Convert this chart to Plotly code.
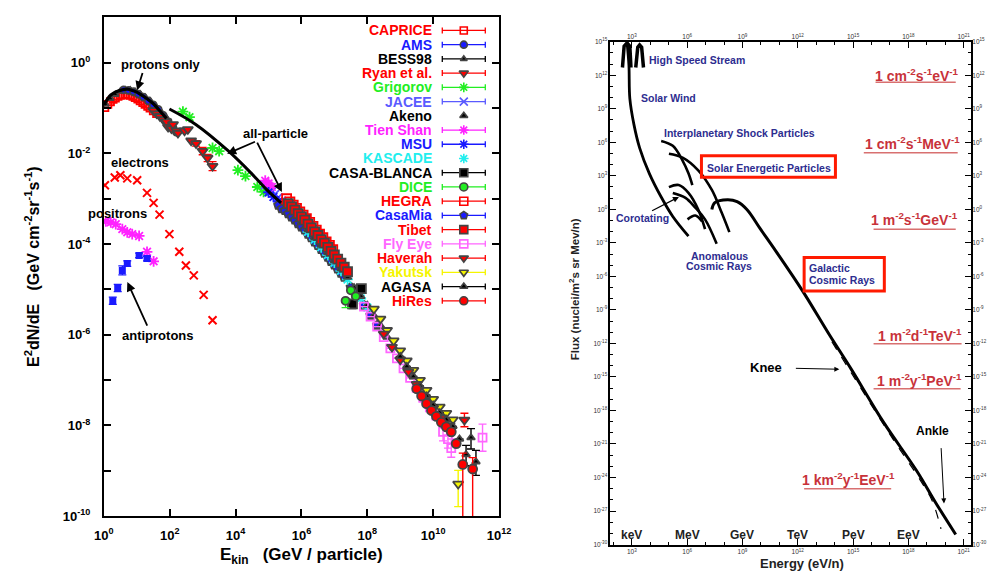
import numpy as np
import plotly.graph_objects as go

W, H = 1000, 578
FONT = "Liberation Sans"

# ====================== LEFT PANEL (values are log10) ======================
# x: log10(E_kin / GeV) ; y: log10(E^2 dN/dE / GeV cm^-2 sr^-1 s^-1)
proton_fit_lx = [0.0, 0.21, 0.45, 0.71, 0.9, 1.1, 1.3, 1.51, 1.7, 1.9]
proton_fit_ly = [-0.93, -0.71, -0.62, -0.58, -0.62, -0.69, -0.79, -0.91, -1.06, -1.23]
allpart_lx = [1.99, 2.79, 3.77, 4.48, 4.96, 5.38]
allpart_ly = [-1.02, -1.36, -1.94, -2.44, -2.81, -3.09]

electrons_lx = [0.03, 0.33, 0.5, 0.71, 1.01, 1.31, 1.51, 1.69, 1.99, 2.29, 2.49, 2.73, 3.03, 3.3]
electrons_ly = [-2.7, -2.53, -2.48, -2.55, -2.59, -2.87, -3.09, -3.35, -3.78, -4.17, -4.47, -4.69, -5.12, -5.68]
positrons_lx = [0.06, 0.21, 0.36, 0.56, 0.71, 0.86, 1.07, 1.31, 1.51]
positrons_ly = [-3.5, -3.52, -3.56, -3.67, -3.74, -3.78, -3.82, -4.17, -4.38]
antiprotons_lx = [0.27, 0.42, 0.56, 0.71, 1.07, 1.31]
antiprotons_ly = [-5.25, -4.97, -4.58, -4.43, -4.25, -4.32]

caprice_lx = [0.03, 0.12, 0.2, 0.28, 0.35, 0.43, 0.5, 0.58, 0.65, 0.73, 0.8, 0.88, 0.95, 1.03, 1.1, 1.18, 1.25, 1.33, 1.4, 1.5, 1.6]
caprice_ly = [-0.99, -0.92, -0.86, -0.81, -0.78, -0.74, -0.72, -0.71, -0.7, -0.71, -0.72, -0.74, -0.77, -0.8, -0.84, -0.88, -0.92, -0.96, -1.0, -1.06, -1.12]
ams_lx = [0.6, 0.75, 0.9, 1.05, 1.2, 1.35, 1.5, 1.65, 1.8, 1.95, 2.1, 2.2]
ams_ly = [-0.6, -0.61, -0.64, -0.69, -0.76, -0.84, -0.93, -1.03, -1.16, -1.3, -1.45, -1.53]
bess_lx = [0.05, 0.2, 0.35, 0.5, 0.65, 0.8, 0.95, 1.1, 1.25, 1.4, 1.55, 1.7, 1.85]
bess_ly = [-0.92, -0.79, -0.7, -0.63, -0.6, -0.6, -0.64, -0.69, -0.76, -0.84, -0.94, -1.05, -1.17]
ryan_lx = [1.5, 1.6, 1.7, 1.8, 1.9, 1.95, 2.05, 2.1, 2.2, 2.25, 2.45, 2.55, 2.65, 2.8, 3.0, 3.15, 3.3]
ryan_ly = [-1.05, -1.12, -1.18, -1.25, -1.3, -1.42, -1.45, -1.36, -1.5, -1.55, -1.5, -1.47, -1.72, -1.78, -1.95, -2.1, -2.28]
grigorov_lx = [2.4, 2.6, 3.3, 3.5, 4.07, 4.3, 4.66, 4.85]
grigorov_ly = [-1.08, -1.2, -1.88, -1.95, -2.37, -2.5, -2.74, -2.85]
jacee_lx = [4.9, 5.0, 5.1, 5.2, 5.3, 5.4, 5.5, 5.6, 5.7]
jacee_ly = [-2.7, -2.77, -2.84, -2.9, -2.97, -3.04, -3.12, -3.2, -3.28]
akeno_lx = [6.0, 6.2, 6.4, 6.6, 6.8, 7.0, 7.2, 7.4, 7.6, 7.8, 8.0, 8.2, 8.4, 8.6, 8.8, 9.0, 9.2, 9.4, 9.6, 9.8, 10.0]
akeno_ly = [-3.52, -3.68, -3.85, -4.02, -4.19, -4.36, -4.54, -4.73, -4.96, -5.15, -5.35, -5.58, -5.8, -6.05, -6.28, -6.5, -6.72, -6.93, -7.15, -7.37, -7.57]
tienshan_lx = [4.9, 5.0, 5.1, 5.5, 5.8, 6.2, 6.5, 6.8, 7.1, 7.3]
tienshan_ly = [-2.6, -2.66, -2.74, -3.12, -3.35, -3.7, -3.96, -4.24, -4.5, -4.68]
msu_lx = [5.0, 5.15, 5.3, 5.45, 5.6, 5.75, 5.9, 6.05, 6.2]
msu_ly = [-2.86, -2.96, -3.06, -3.17, -3.28, -3.38, -3.5, -3.62, -3.74]
kascade_lx = [6.2, 6.4, 6.6, 6.8, 7.0, 7.2, 7.4, 7.6, 7.8, 8.0]
kascade_ly = [-3.73, -3.9, -4.07, -4.24, -4.41, -4.59, -4.78, -5.01, -5.2, -5.4]
casablanca_lx = [7.55, 7.82]
casablanca_ly = [-5.32, -4.98]
dice_lx = [7.34, 7.5, 7.65]
dice_ly = [-5.25, -5.02, -5.15]
hegra_lx = [5.55, 5.65, 5.75, 5.85, 5.95, 6.05, 6.15, 6.25, 6.35, 6.45, 6.55, 6.65, 6.75, 6.85, 6.95]
hegra_ly = [-3.0, -3.07, -3.14, -3.21, -3.29, -3.36, -3.44, -3.52, -3.61, -3.69, -3.78, -3.86, -3.95, -4.03, -4.12]
casamia_lx = [5.3, 5.4, 5.5, 5.6, 5.7, 5.8, 5.9, 6.0, 6.1, 6.2, 6.3, 6.4, 6.5, 6.6, 6.7, 6.8, 6.9, 7.0, 7.1, 7.2, 7.3, 7.5, 7.7, 7.9, 8.1, 8.3]
casamia_ly = [-3.14, -3.22, -3.26, -3.33, -3.4, -3.47, -3.55, -3.62, -3.69, -3.78, -3.86, -3.95, -4.03, -4.12, -4.2, -4.29, -4.38, -4.46, -4.55, -4.64, -4.73, -4.95, -5.16, -5.35, -5.57, -5.79]
tibet_lx = [5.6, 5.7, 5.8, 5.9, 6.0, 6.1, 6.2, 6.3, 6.4, 6.5, 6.6, 6.7, 6.8, 6.9, 7.0, 7.1, 7.2, 7.3, 7.4]
tibet_ly = [-3.11, -3.18, -3.25, -3.33, -3.4, -3.47, -3.56, -3.64, -3.73, -3.81, -3.9, -3.98, -4.07, -4.16, -4.24, -4.33, -4.42, -4.51, -4.61]
flyeye_lx = [7.9, 8.1, 8.3, 8.5, 8.7, 8.9, 9.1, 9.3, 9.5, 9.7, 9.9, 10.1, 10.3, 10.45, 10.55, 11.5]
flyeye_ly = [-5.38, -5.6, -5.82, -6.05, -6.3, -6.52, -6.74, -6.95, -7.17, -7.39, -7.6, -7.78, -8.14, -8.3, -8.5, -8.27]
haverah_lx = [8.5, 8.75, 9.0, 9.25, 9.5, 9.75, 10.0, 10.25, 10.5, 10.95]
haverah_ly = [-5.98, -6.27, -6.55, -6.82, -7.09, -7.37, -7.62, -7.83, -8.0, -7.88]
yakutsk_lx = [8.2, 8.4, 8.6, 8.8, 9.0, 9.2, 9.4, 9.6, 9.8, 10.0, 10.2, 10.4, 10.6, 10.76]
yakutsk_ly = [-5.43, -5.65, -5.9, -6.13, -6.35, -6.57, -6.78, -7.0, -7.22, -7.42, -7.59, -7.73, -7.87, -9.29]
agasa_lx = [9.0, 9.2, 9.4, 9.6, 9.8, 10.0, 10.2, 10.4, 10.6, 10.8, 11.0, 11.15, 11.3]
agasa_ly = [-6.48, -6.7, -6.92, -7.13, -7.35, -7.55, -7.72, -7.87, -8.02, -8.3, -8.64, -8.27, -8.8]
hires_lx = [9.5, 9.65, 9.8, 9.95, 10.1, 10.25, 10.4, 10.55, 10.7, 10.9, 11.2]
hires_ly = [-7.19, -7.35, -7.52, -7.67, -7.8, -7.93, -8.03, -8.14, -8.4, -8.86, -8.96]

# error bars (dex, up / down)
antiprotons_eu = [0.08, 0.08, 0.1, 0.06, 0.05, 0.05]
antiprotons_ed = [0.08, 0.08, 0.1, 0.06, 0.05, 0.05]
ryan_eu = [0] * 13 + [0.06, 0.08, 0.08, 0.1]
ryan_ed = [0] * 13 + [0.06, 0.08, 0.08, 0.1]
casablanca_eu = [0.08, 0.06]
casablanca_ed = [0.1, 0.06]
dice_eu = [0.0, 0.0, 0.0]
dice_ed = [0.15, 0.0, 0.0]
flyeye_eu = [0] * 12 + [0.2, 0.2, 0.2, 0.3]
flyeye_ed = [0] * 12 + [0.2, 0.2, 0.2, 0.3]
haverah_eu = [0] * 9 + [0.15]
haverah_ed = [0] * 9 + [0.15]
yakutsk_eu = [0] * 13 + [0.3]
yakutsk_ed = [0] * 13 + [0.5]
agasa_eu = [0] * 10 + [0.2, 0.2, 0.25]
agasa_ed = [0] * 10 + [0.25, 0.25, 0.3]
hires_eu = [0] * 9 + [0.25, 0.25]
hires_ed = [0] * 9 + [1.3, 1.3]

legend_names = ["CAPRICE", "AMS", "BESS98", "Ryan et al.", "Grigorov", "JACEE", "Akeno",
                "Tien Shan", "MSU", "KASCADE", "CASA-BLANCA", "DICE", "HEGRA", "CasaMia",
                "Tibet", "Fly Eye", "Haverah", "Yakutsk", "AGASA", "HiRes"]

# ====================== RIGHT PANEL (values are log10) ======================
# x: log10(E / eV per nucleon) ; y: log10(flux / nuclei m^-2 s^-1 sr^-1 (MeV/n)^-1)
solarwind_lx = [2.74, 2.84, 2.89, 3.11, 3.42, 3.95, 4.59, 5.22, 6.07]
solarwind_ly = [14.9, 12.9, 9.9, 7.6, 5.5, 3.2, 1.1, -0.64, -2.4]
hss1_lx = [2.49, 2.58, 2.74, 2.89, 2.95]
hss1_ly = [12.69, 14.6, 14.89, 14.6, 12.69]
hss2_lx = [3.21, 3.32, 3.42, 3.53, 3.63]
hss2_ly = [12.69, 14.5, 14.7, 14.5, 12.69]
ipshock_lx = [4.59, 5.22, 5.75, 6.07, 6.28]
ipshock_ly = [6.12, 5.68, 4.36, 3.22, 2.17]
sep_lx = [5.01, 5.75, 6.6, 7.34, 7.87, 8.29]
sep_ly = [4.98, 4.63, 3.49, 1.73, -0.29, -2.04]
corot1_lx = [5.01, 5.54, 6.07, 6.6, 6.97]
corot1_ly = [1.99, 2.17, 1.47, -0.02, -1.78]
corot2_lx = [5.22, 5.91, 6.44, 6.97, 7.6]
corot2_ly = [1.47, 1.03, 0.15, -0.9, -3.08]
acr_lx = [6.02, 6.44, 6.81]
acr_ly = [-0.9, -0.55, -1.08]
galactic_lx = [7.34, 7.5, 8.19, 8.71, 9.24, 9.98, 10.83, 12.26, 13.69, 14.9, 16.65, 18.45, 19.5, 20.57]
galactic_ly = [-0.02, 0.59, 0.85, 0.68, -0.02, -1.78, -3.79, -7.3, -11.16, -14.3, -19.05, -23.4, -26.3, -29.1]
galactic_alt_lx = [13.85, 15.44, 17.02, 18.67, 19.3, 19.77]
galactic_alt_ly = [-11.85, -16.05, -20.2, -24.3, -26.1, -28.6]
energy_unit_lx = [3, 6, 9, 12, 15, 18]
energy_unit_names = ["keV", "MeV", "GeV", "TeV", "PeV", "EeV"]


def P(a):
    return np.power(10.0, np.asarray(a, dtype=float))


def errs(ly, eu, ed):
    y = P(ly)
    return dict(type="data", symmetric=False,
                array=list(y * (P(eu) - 1.0)), arrayminus=list(y * (1.0 - P(-np.asarray(ed, dtype=float)))))


fig = go.Figure()

RED, BLUE, BLK, GRN, MAG, CYN, YEL = "#ff0000", "#1a1aff", "#000000", "#22ee22", "#ff22ff", "#22eeee", "#f5f500"
LBLUE, PINK = "#5a5aff", "#ff66ff"

# (name, lx, ly, color, symbol, size, err(up,down) or None, has_errbar_in_legend)
series = [
    ("CAPRICE", caprice_lx, caprice_ly, RED, "square-open", 7, None, True),
    ("BESS98", bess_lx, bess_ly, BLK, "triangle-up", 6, None, True),
    ("AMS", ams_lx, ams_ly, BLUE, "circle", 7, None, True),
    ("Ryan et al.", ryan_lx, ryan_ly, RED, "triangle-down", 9, (ryan_eu, ryan_ed), True),
    ("Grigorov", grigorov_lx, grigorov_ly, GRN, "asterisk-open", 9, None, True),
    ("JACEE", jacee_lx, jacee_ly, LBLUE, "x-thin-open", 8, None, True),
    ("Tien Shan", tienshan_lx, tienshan_ly, MAG, "asterisk-open", 9, None, True),
    ("MSU", msu_lx, msu_ly, BLUE, "asterisk-open", 9, None, True),
    ("CasaMia", casamia_lx, casamia_ly, BLUE, "pentagon", 9, None, True),
    ("KASCADE", kascade_lx, kascade_ly, CYN, "asterisk-open", 9, None, False),
    ("Akeno", akeno_lx, akeno_ly, BLK, "triangle-up", 7, None, False),
    ("HEGRA", hegra_lx, hegra_ly, RED, "square-open", 9, None, True),
    ("Tibet", tibet_lx, tibet_ly, RED, "square", 9, None, True),
    ("Fly Eye", flyeye_lx, flyeye_ly, PINK, "square-open", 8, (flyeye_eu, flyeye_ed), True),
    ("Yakutsk", yakutsk_lx, yakutsk_ly, YEL, "triangle-down", 9, (yakutsk_eu, yakutsk_ed), True),
    ("Haverah", haverah_lx, haverah_ly, RED, "triangle-down", 9, (haverah_eu, haverah_ed), True),
    ("AGASA", agasa_lx, agasa_ly, BLK, "triangle-up", 7, (agasa_eu, agasa_ed), True),
    ("HiRes", hires_lx, hires_ly, RED, "circle", 9, (hires_eu, hires_ed), True),
    ("CASA-BLANCA", casablanca_lx, casablanca_ly, BLK, "square", 9, (casablanca_eu, casablanca_ed), True),
    ("DICE", dice_lx, dice_ly, GRN, "circle", 8, (dice_eu, dice_ed), True),
]
legend_style = {s[0]: s for s in series}

# secondary species
fig.add_trace(go.Scatter(x=P(electrons_lx), y=P(electrons_ly), mode="markers", xaxis="x", yaxis="y",
                         marker=dict(symbol="x-thin-open", size=8, color=RED, line=dict(width=2)),
                         showlegend=False))
fig.add_trace(go.Scatter(x=P(positrons_lx), y=P(positrons_ly), mode="markers", xaxis="x", yaxis="y",
                         marker=dict(symbol="asterisk-open", size=9, color=MAG, line=dict(width=1.8)),
                         showlegend=False))
fig.add_trace(go.Scatter(x=P(antiprotons_lx), y=P(antiprotons_ly), mode="markers", xaxis="x", yaxis="y",
                         marker=dict(symbol="square", size=7, color=BLUE),
                         error_y=dict(errs(antiprotons_ly, antiprotons_eu, antiprotons_ed), color=BLUE,
                                      thickness=1.3, width=4),
                         showlegend=False))

for name, lx, ly, col, sym, sz, er, _ in series:
    kw = {}
    if er is not None:
        kw["error_y"] = dict(errs(ly, er[0], er[1]), color=col, thickness=1.4, width=4)
    fig.add_trace(go.Scatter(x=P(lx), y=P(ly), mode="markers", xaxis="x", yaxis="y", name=name,
                             marker=dict(symbol=sym, size=sz, color=col, line=dict(width=1.8)),
                             showlegend=False, **kw))

# fit lines
fig.add_trace(go.Scatter(x=P(proton_fit_lx), y=P(proton_fit_ly), mode="lines", xaxis="x", yaxis="y",
                         line=dict(color="black", width=3.2, shape="spline"), showlegend=False))
fig.add_trace(go.Scatter(x=P(allpart_lx), y=P(allpart_ly), mode="lines", xaxis="x", yaxis="y",
                         line=dict(color="black", width=3, shape="spline"), showlegend=False))


# ---------------- right panel curves ----------------
def curve(lx, ly, width=2.6, dash="solid", shape="spline"):
    fig.add_trace(go.Scatter(x=P(lx), y=P(ly), mode="lines", xaxis="x2", yaxis="y2",
                             line=dict(color="black", width=width, shape=shape, dash=dash),
                             showlegend=False))


curve(hss1_lx, hss1_ly, 3.5, shape="linear")
curve(hss2_lx, hss2_ly, 3.5, shape="linear")
curve(solarwind_lx, solarwind_ly, 2.8)
curve(ipshock_lx, ipshock_ly)
curve(sep_lx, sep_ly)
curve(corot1_lx, corot1_ly)
curve(corot2_lx, corot2_ly)
curve(acr_lx, acr_ly)
curve(galactic_lx, galactic_ly, 3)
curve(galactic_alt_lx, galactic_alt_ly, 1.2, "dash")
fig.add_trace(go.Scatter(x=[], y=[], xaxis="x4", yaxis="y4", showlegend=False))

# ---------------- legend (pixel overlay axes x3/y3) ----------------
annotations = []
shapes = []
leg_y0, leg_dy = 27, 14.53
for i, nm in enumerate(legend_names):
    _, lx, ly, col, sym, sz, er, bar = legend_style[nm]
    yy = leg_y0 + i * leg_dy
    kw = {}
    if bar:
        kw["error_x"] = dict(type="data", array=[22], color=col, thickness=1.3, width=3)
    fig.add_trace(go.Scatter(x=[464], y=[yy], mode="markers", xaxis="x3", yaxis="y3",
                             marker=dict(symbol=sym, size=min(sz, 8), color=col, line=dict(width=1.6)),
                             showlegend=False, **kw))
    annotations.append(dict(x=434, y=yy, xref="x3", yref="y3", text=nm, showarrow=False,
                            xanchor="right", yanchor="middle",
                            font=dict(family=FONT, size=14, color=col, weight="bold")))


def txt(x, y, s, size=13, color="black", xanchor="center", weight="bold", angle=0):
    annotations.append(dict(x=x, y=y, xref="x3", yref="y3", text=s, showarrow=False,
                            xanchor=xanchor, yanchor="middle", textangle=angle,
                            font=dict(family=FONT, size=size, color=color, weight=weight)))


def arrow(x0, y0, x1, y1, width=1.8, head=2, color="black", size=1.0):
    annotations.append(dict(x=x1, y=y1, ax=x0, ay=y0, xref="x3", yref="y3", axref="x3", ayref="y3",
                            text="", showarrow=True, arrowhead=head, arrowwidth=width,
                            arrowsize=size, arrowcolor=color, standoff=0))


# left-panel labels
txt(154, 62, "protons only", 13)
arrow(136, 69, 130, 88)
txt(271, 132, "all-particle", 13)
arrow(252, 140, 222, 153)
arrow(252, 140, 278, 192)
txt(133, 162, "electrons", 13)
txt(110, 214, "positrons", 13)
txt(151, 339, "antiprotons", 13)
arrow(141, 330, 120, 284)
txt(298, 564, "E<sub>kin</sub>   (GeV / particle)", 17)
txt(23, 268, "E<sup>2</sup>dN/dE   (GeV cm<sup>-2</sup>sr<sup>-1</sup>s<sup>-1</sup>)", 16, angle=-90)

# right-panel labels
NAVY = "#2d2d8f"
DRED = "#c8323a"
txt(651, 57, "High Speed Stream", 10.5, NAVY, "left")
txt(643, 96, "Solar Wind", 10.5, NAVY, "left")
txt(667, 132, "Interplanetary Shock Particles", 10.5, NAVY, "left")
txt(711, 167, "Solar Energetic Particles", 10.5, NAVY, "left")
txt(618, 219, "Corotating", 10.5, NAVY, "left")
txt(725, 257, "Anomalous", 10.5, NAVY)
txt(725, 268, "Cosmic Rays", 10.5, NAVY)
txt(815, 270, "Galactic", 10.5, NAVY, "left")
txt(815, 282, "Cosmic Rays", 10.5, NAVY, "left")
shapes.append(dict(type="rect", x0=707, x1=844, y0=155, y1=177, xref="x3", yref="y3",
                   line=dict(color="#ff1a00", width=3)))
shapes.append(dict(type="rect", x0=812, x1=894, y0=259, y1=293, xref="x3", yref="y3",
                   line=dict(color="#ff1a00", width=3)))
arrow(655, 212, 684, 197, 1.2, 2)
txt(773, 371, "Knee", 13)
arrow(802, 372, 848, 373, 1, 2)
txt(943, 436, "Ankle", 12)
arrow(952, 452, 955, 510, 1, 2)

units = [(927, 72, 885, 967, 80, "1 cm<sup>-2</sup>s<sup>-1</sup>eV<sup>-1</sup>"),
         (923, 142, 873, 969, 152, "1 cm<sup>-2</sup>s<sup>-1</sup>MeV<sup>-1</sup>"),
         (925, 220, 883, 967, 230, "1 m<sup>-2</sup>s<sup>-1</sup>GeV<sup>-1</sup>"),
         (930, 338, 883, 973, 347, "1 m<sup>-2</sup>d<sup>-1</sup>TeV<sup>-1</sup>"),
         (930, 384, 883, 972, 393, "1 m<sup>-2</sup>y<sup>-1</sup>PeV<sup>-1</sup>"),
         (857, 485, 812, 901, 495, "1 km<sup>-2</sup>y<sup>-1</sup>EeV<sup>-1</sup>")]
for cx, cy, ux0, ux1, uy, s in units:
    txt(cx, cy, s, 14, DRED)
    shapes.append(dict(type="line", x0=ux0, x1=ux1, y0=uy, y1=uy, xref="x3", yref="y3",
                       line=dict(color="#d87070", width=1.5)))

for lx, nm in zip(energy_unit_lx, energy_unit_names):
    annotations.append(dict(x=lx, y=542, xref="x2", yref="y3", text=nm, showarrow=False,
                            xanchor="center", yanchor="middle",
                            font=dict(family=FONT, size=12, color="#222", weight="bold")))

txt(810, 571, "Energy (eV/n)", 13, "#222")
txt(577, 291, "Flux (nuclei/m<sup>2</sup>s sr Mev/n)", 11.5, "#222", angle=-90)


# ---------------- axes ----------------
def sup(e):
    return "<b>10<sup>%d</sup></b>" % e


left_x_ticks = list(range(0, 13, 2))
left_y_ticks = list(range(0, -11, -1))
right_x_ticks = list(range(3, 22, 3))
right_y_ticks = list(range(15, -31, -3))

tick_font_left = dict(family=FONT, size=13, color="black")
small = dict(family=FONT, size=6.5, color="#333")

fig.update_layout(
    width=W, height=H, margin=dict(l=0, r=0, t=0, b=0),
    paper_bgcolor="white", plot_bgcolor="rgba(0,0,0,0)", showlegend=False,
    xaxis=dict(type="log", domain=[96 / W, 500 / W], range=[0, 12], anchor="y",
               tickvals=list(P(left_x_ticks)), ticktext=[sup(e) for e in left_x_ticks],
               ticks="inside", ticklen=7, tickwidth=1.5, tickcolor="black", mirror="allticks",
               showline=True, linewidth=2, linecolor="black", showgrid=False, zeroline=False,
               tickfont=tick_font_left, ticklabelstandoff=6),
    yaxis=dict(type="log", domain=[1 - 523 / H, 1 - 13 / H], range=[-10, 1.015], anchor="x",
               tickvals=list(P(left_y_ticks)), ticktext=[sup(e) if e % 2 == 0 else "" for e in left_y_ticks],
               ticks="inside", ticklen=7, tickwidth=1.5, tickcolor="black", mirror="allticks",
               showline=True, linewidth=2, linecolor="black", showgrid=False, zeroline=False,
               tickfont=tick_font_left, ticklabelstandoff=9),
    xaxis2=dict(type="log", domain=[614 / W, 983 / W], range=[1.84, 21.42], anchor="y2",
                tickvals=list(P(right_x_ticks)), ticktext=["10<sup>%d</sup>" % e for e in right_x_ticks],
                ticks="inside", ticklen=6, tickwidth=1, tickcolor="black",
                minor=dict(tickvals=list(P(list(range(2, 22)))), ticks="inside", ticklen=3, tickcolor="black"),
                showline=True, linewidth=2, linecolor="black", mirror=True, showgrid=False, zeroline=False,
                tickfont=small),
    yaxis2=dict(type="log", domain=[1 - 552 / H, 1 - 38.5 / H], range=[-30, 15], anchor="x2",
                tickvals=list(P(right_y_ticks)), ticktext=["10<sup>%d</sup>" % e for e in right_y_ticks],
                ticks="inside", ticklen=6, tickwidth=1, tickcolor="black",
                minor=dict(tickvals=list(P(list(range(-30, 16)))), ticks="inside", ticklen=3, tickcolor="black"),
                showline=True, linewidth=2, linecolor="black", mirror=True, showgrid=False, zeroline=False,
                tickfont=small),
    xaxis4=dict(type="log", overlaying="x2", side="top", range=[1.84, 21.42], anchor="y2",
                tickvals=list(P(right_x_ticks)), ticktext=["10<sup>%d</sup>" % e for e in right_x_ticks],
                ticks="inside", ticklen=6, tickcolor="black",
                minor=dict(tickvals=list(P(list(range(2, 22)))), ticks="inside", ticklen=3, tickcolor="black"),
                showgrid=False, zeroline=False, tickfont=small),
    yaxis4=dict(type="log", overlaying="y2", side="right", range=[-30, 15], anchor="x2",
                tickvals=list(P(right_y_ticks)), ticktext=["10<sup>%d</sup>" % e for e in right_y_ticks],
                ticks="inside", ticklen=6, tickcolor="black",
                minor=dict(tickvals=list(P(list(range(-30, 16)))), ticks="inside", ticklen=3, tickcolor="black"),
                showgrid=False, zeroline=False, tickfont=small),
    xaxis3=dict(domain=[0, 1], range=[0, W], visible=False, anchor="y3", fixedrange=True),
    yaxis3=dict(domain=[0, 1], range=[H, 0], visible=False, anchor="x3", fixedrange=True),
    annotations=annotations, shapes=shapes,
)

fig.write_html("out.html")
